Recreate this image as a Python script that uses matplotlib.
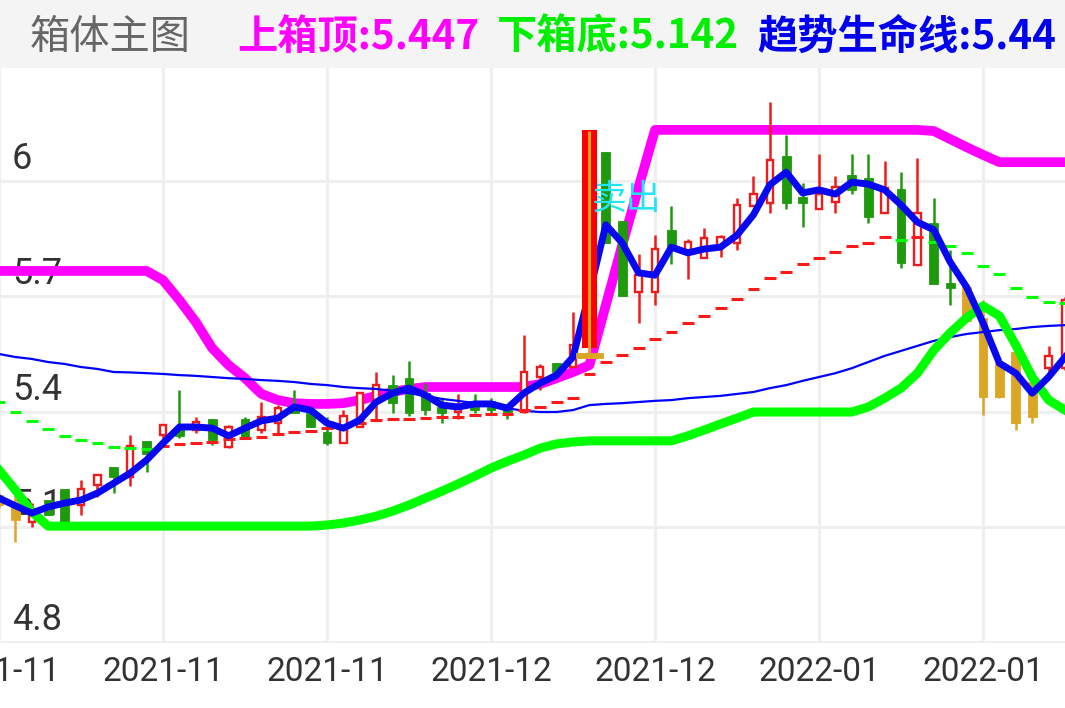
import matplotlib
matplotlib.use('Agg')
import matplotlib.pyplot as plt
import matplotlib.transforms as mtransforms
from matplotlib.patches import Rectangle
import numpy as np

plt.rcParams['font.family'] = ['Roboto', 'DejaVu Sans']

# candle kind: r = up (hollow red), g = down (green), y = gold
kinds = ['y', 'y', 'r', 'g', 'g', 'r', 'r', 'g', 'r', 'g',
         'r', 'g', 'r', 'g', 'r', 'g', 'r', 'r', 'g', 'g',
         'g', 'r', 'r', 'r', 'g', 'g', 'g', 'g', 'r', 'g',
         'g', 'g', 'r', 'r', 'g', 'r', 'y', 'g', 'g', 'r',
         'r', 'g', 'r', 'r', 'r', 'r', 'r', 'r', 'g', 'g',
         'r', 'r', 'g', 'g', 'r', 'g', 'r', 'g', 'g', 'y',
         'y', 'y', 'y', 'y', 'r', 'r']
highs = [5.188, 5.188, 5.162, 5.170, 5.199, 5.222, 5.235, 5.256, 5.339, 5.324,
         5.365, 5.456, 5.386, 5.381, 5.365, 5.386, 5.425, 5.417, 5.456, 5.396,
         5.386, 5.404, 5.448, 5.503, 5.495, 5.532, 5.474, 5.435, 5.446, 5.446,
         5.435, 5.417, 5.599, 5.524, 5.526, 5.659, 6.130, 6.075, 5.896, 5.810,
         5.859, 5.935, 5.849, 5.878, 5.859, 5.956, 6.013, 6.206, 6.120, 5.995,
         6.070, 6.013, 6.070, 6.070, 6.052, 6.023, 6.060, 5.956, 5.820, 5.724,
         5.690, 5.526, 5.555, 5.503, 5.571, 5.698]
opens = [5.183, 5.165, 5.113, 5.170, 5.199, 5.157, 5.209, 5.256, 5.230, 5.324,
         5.339, 5.360, 5.352, 5.381, 5.308, 5.381, 5.352, 5.370, 5.415, 5.396,
         5.347, 5.318, 5.360, 5.430, 5.469, 5.487, 5.448, 5.412, 5.399, 5.420,
         5.428, 5.417, 5.399, 5.490, 5.526, 5.516, 5.552, 6.075, 5.896, 5.711,
         5.711, 5.873, 5.820, 5.800, 5.828, 5.839, 5.935, 5.943, 6.065, 5.958,
         5.927, 5.945, 6.016, 6.008, 5.917, 5.979, 5.781, 5.891, 5.735, 5.724,
         5.644, 5.526, 5.555, 5.477, 5.513, 5.513]
closes = [5.157, 5.118, 5.144, 5.131, 5.113, 5.199, 5.235, 5.230, 5.310, 5.290,
          5.365, 5.337, 5.373, 5.326, 5.360, 5.334, 5.386, 5.409, 5.396, 5.360,
          5.318, 5.389, 5.448, 5.469, 5.422, 5.396, 5.404, 5.396, 5.417, 5.404,
          5.404, 5.399, 5.503, 5.516, 5.503, 5.573, 5.539, 5.839, 5.701, 5.755,
          5.823, 5.828, 5.841, 5.852, 5.854, 5.938, 5.966, 6.055, 5.943, 5.943,
          5.966, 5.984, 5.977, 5.906, 5.982, 5.787, 5.917, 5.732, 5.722, 5.636,
          5.438, 5.438, 5.370, 5.386, 5.545, 5.690]
lows = [5.150, 5.061, 5.100, 5.131, 5.113, 5.131, 5.178, 5.188, 5.206, 5.243,
        5.326, 5.331, 5.344, 5.313, 5.305, 5.331, 5.344, 5.344, 5.396, 5.360,
        5.313, 5.318, 5.360, 5.378, 5.396, 5.389, 5.391, 5.370, 5.381, 5.396,
        5.396, 5.381, 5.396, 5.456, 5.495, 5.516, 5.539, 5.839, 5.701, 5.631,
        5.677, 5.784, 5.745, 5.800, 5.802, 5.820, 5.935, 5.917, 5.927, 5.880,
        5.927, 5.917, 5.966, 5.891, 5.917, 5.774, 5.781, 5.732, 5.677, 5.636,
        5.391, 5.435, 5.352, 5.370, 5.500, 5.508]

# 上箱顶
box_top = [5.766, 5.766, 5.766, 5.766, 5.766, 5.766, 5.766, 5.766, 5.766, 5.766,
           5.742, 5.690, 5.633, 5.565, 5.521, 5.487, 5.446, 5.430, 5.422, 5.420,
           5.420, 5.422, 5.430, 5.441, 5.451, 5.459, 5.464, 5.464, 5.464, 5.464,
           5.464, 5.464, 5.464, 5.472, 5.487, 5.503, 5.521, 5.677, 5.833, 5.984,
           6.133, 6.133, 6.133, 6.133, 6.133, 6.133, 6.133, 6.133, 6.133, 6.133,
           6.133, 6.133, 6.133, 6.133, 6.133, 6.133, 6.133, 6.130, 6.109, 6.088,
           6.068, 6.049, 6.049, 6.049, 6.049, 6.049]
# 下箱底
box_bottom = [5.248, 5.196, 5.139, 5.102, 5.102, 5.102, 5.102, 5.102, 5.102, 5.102,
              5.102, 5.102, 5.102, 5.102, 5.102, 5.102, 5.102, 5.102, 5.102, 5.102,
              5.105, 5.110, 5.118, 5.128, 5.141, 5.157, 5.175, 5.193, 5.212, 5.232,
              5.253, 5.271, 5.287, 5.305, 5.316, 5.321, 5.324, 5.324, 5.324, 5.324,
              5.324, 5.324, 5.337, 5.352, 5.368, 5.383, 5.399, 5.399, 5.399, 5.399,
              5.399, 5.399, 5.399, 5.412, 5.435, 5.461, 5.500, 5.560, 5.605, 5.644,
              5.675, 5.649, 5.573, 5.490, 5.430, 5.404]
# 趋势生命线
trend = [5.175, 5.155, 5.136, 5.152, 5.162, 5.170, 5.188, 5.214, 5.240, 5.274,
         5.318, 5.360, 5.360, 5.357, 5.337, 5.357, 5.376, 5.383, 5.412, 5.404,
         5.370, 5.357, 5.378, 5.425, 5.448, 5.461, 5.443, 5.417, 5.412, 5.420,
         5.420, 5.409, 5.448, 5.474, 5.495, 5.542, 5.709, 5.886, 5.839, 5.761,
         5.755, 5.828, 5.813, 5.823, 5.828, 5.859, 5.912, 5.990, 6.023, 5.969,
         5.977, 5.966, 5.997, 5.992, 5.977, 5.938, 5.893, 5.873, 5.789, 5.724,
         5.631, 5.526, 5.500, 5.448, 5.490, 5.542]
ma_long = [5.550, 5.542, 5.537, 5.529, 5.524, 5.516, 5.511, 5.503, 5.502, 5.500,
           5.498, 5.495, 5.493, 5.490, 5.487, 5.485, 5.482, 5.480, 5.477, 5.472,
           5.469, 5.464, 5.461, 5.459, 5.454, 5.448, 5.441, 5.433, 5.428, 5.422,
           5.417, 5.409, 5.402, 5.399, 5.399, 5.404, 5.417, 5.420, 5.422, 5.425,
           5.428, 5.430, 5.435, 5.438, 5.441, 5.446, 5.451, 5.461, 5.469, 5.480,
           5.490, 5.500, 5.513, 5.529, 5.545, 5.558, 5.571, 5.584, 5.594, 5.602,
           5.607, 5.612, 5.615, 5.620, 5.623, 5.625]
ma_mid = [5.425, 5.399, 5.376, 5.355, 5.337, 5.326, 5.318, 5.308, 5.305, 5.303,
          5.310, 5.316, 5.318, 5.321, 5.329, 5.331, 5.334, 5.342, 5.347, 5.350,
          5.357, 5.363, 5.370, 5.378, 5.381, 5.382, 5.383, 5.386, 5.387, 5.391,
          5.394, 5.395, 5.404, 5.412, 5.425, 5.435, 5.498, 5.529, 5.547, 5.565,
          5.589, 5.607, 5.631, 5.649, 5.670, 5.693, 5.719, 5.748, 5.763, 5.784,
          5.800, 5.815, 5.831, 5.839, 5.854, 5.846, 5.854, 5.841, 5.831, 5.813,
          5.779, 5.758, 5.722, 5.698, 5.685, 5.683]

sell_idx = 36
sell_bar = (5.565, 6.133)
sell_text_y = 5.953

date_pos = [0, 10, 20, 30, 40, 50, 60]
date_labels = ['2021-11', '2021-11', '2021-11', '2021-12', '2021-12', '2022-01', '2022-01']
price_ticks = [4.8, 5.1, 5.4, 5.7, 6.0]
price_labels = ['4.8', '5.1', '5.4', '5.7', '6']

W, H = 1065, 708
fig = plt.figure(figsize=(W / 100, H / 100), dpi=100)
fig.patch.set_facecolor('white')
fig.add_artist(Rectangle((0, 1 - 68 / H), 1, 68 / H, transform=fig.transFigure,
                         facecolor='#f4f4f4', edgecolor='none', zorder=0))

ax = fig.add_axes([0, 65 / H, 1, 575 / H])
ax.set_xlim(0.06, 65.0)
ax.set_ylim(4.798, 6.294)
ax.axis('off')

grid_c = '#efefef'
for p in price_ticks:
    ax.axhline(p, color=grid_c, lw=2.2, zorder=0)
for d in date_pos:
    ax.axvline(d, color=grid_c, lw=2.2, zorder=0)

ylab_tr = mtransforms.blended_transform_factory(ax.transAxes, ax.transData)
for p, lab in zip(price_ticks, price_labels):
    ax.text(12 / W, p + 0.031, lab, transform=ylab_tr, fontsize=26, color='#333333',
            va='baseline', ha='left', zorder=1)

xlab_tr = mtransforms.blended_transform_factory(ax.transData, fig.transFigure)
for d, lab in zip(date_pos, date_labels):
    ax.text(d, 1 - 672 / H, lab, transform=xlab_tr, fontsize=24, color='#333333',
            ha='center', va='center')

# box top line under the candles
x = np.arange(len(kinds))
ax.plot(x, box_top, color='#ff00ff', lw=7, solid_joinstyle='round', zorder=2)

colors = {'r': '#ee1c1c', 'g': '#1f9a0d', 'y': '#dba526'}
for i in x:
    k = kinds[i]
    c = colors[k]
    top = max(opens[i], closes[i])
    bot = min(opens[i], closes[i])
    if k == 'r':
        ax.vlines(i, top, highs[i], color=c, lw=1.8, zorder=3)
        ax.vlines(i, lows[i], bot, color=c, lw=1.8, zorder=3)
        ax.add_patch(Rectangle((i - 0.2, bot), 0.4, top - bot, facecolor='white',
                               edgecolor=c, lw=1.7, zorder=3))
    else:
        ax.vlines(i, lows[i], highs[i], color=c, lw=1.8, zorder=3)
        ax.add_patch(Rectangle((i - 0.27, bot), 0.54, max(top - bot, 0.004),
                               facecolor=c, edgecolor=c, lw=0.6, zorder=3))

ax.plot(x, ma_long, color='#0000ff', lw=1.6, zorder=4)

# dashed average, red while rising, green while falling
for i in x:
    if i == 0:
        up = ma_mid[1] > ma_mid[0]
    else:
        up = ma_mid[i] > ma_mid[i - 1]
    ax.hlines(ma_mid[i], i - 0.36, i + 0.36, color='#ff1a1a' if up else '#00ff00',
              lw=2.2, zorder=5)

ax.plot(x, box_bottom, color='#00ff00', lw=6.5, solid_joinstyle='round', zorder=6)
ax.plot(x, trend, color='#0808f0', lw=5, solid_joinstyle='round', zorder=7)

# sell signal
ax.add_patch(Rectangle((sell_idx - 0.45, sell_bar[0]), 0.9, sell_bar[1] - sell_bar[0],
                       facecolor='#ff0000', edgecolor='none', zorder=8))
ax.vlines(sell_idx, lows[sell_idx], highs[sell_idx], color=colors['y'], lw=2.2, zorder=9)
ax.add_patch(Rectangle((sell_idx - 0.82, closes[sell_idx]), 1.64,
                       opens[sell_idx] - closes[sell_idx],
                       facecolor=colors['y'], edgecolor=colors['y'], lw=0.6, zorder=9))
ax.text(sell_idx + 0.12, sell_text_y, '卖出', color='#22e4f4', fontsize=25,
        family=['Noto Sans CJK SC'], ha='left', va='center', zorder=10)

# header
hy = 1 - 37 / H
fig.text(30 / W, hy, '箱体主图', fontsize=29, color='#666666',
         family=['Noto Sans CJK SC'], va='center', ha='left')
fig.text(237 / W, hy, '上箱顶:5.447', fontsize=29, color='#ff00ff', fontweight='bold',
         family=['Noto Sans CJK SC'], va='center', ha='left')
fig.text(497 / W, hy, '下箱底:5.142', fontsize=29, color='#00ee00', fontweight='bold',
         family=['Noto Sans CJK SC'], va='center', ha='left')
fig.text(757 / W, hy, '趋势生命线:5.44', fontsize=29, color='#0000ee', fontweight='bold',
         family=['Noto Sans CJK SC'], va='center', ha='left')

fig.savefig('out.png', dpi=100)
